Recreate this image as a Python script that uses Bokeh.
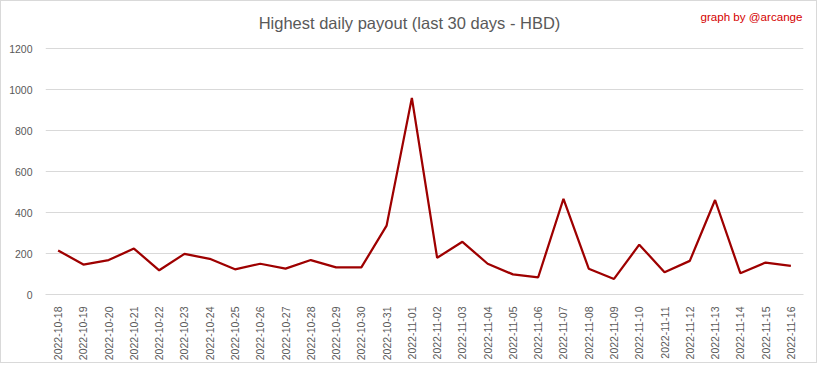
import math
from bokeh.plotting import figure
from bokeh.models import FactorRange, Range1d, FixedTicker, Label
from bokeh.embed import file_html
from bokeh.resources import INLINE

dates = ["2022-10-18", "2022-10-19", "2022-10-20", "2022-10-21", "2022-10-22",
         "2022-10-23", "2022-10-24", "2022-10-25", "2022-10-26", "2022-10-27",
         "2022-10-28", "2022-10-29", "2022-10-30", "2022-10-31", "2022-11-01",
         "2022-11-02", "2022-11-03", "2022-11-04", "2022-11-05", "2022-11-06",
         "2022-11-07", "2022-11-08", "2022-11-09", "2022-11-10", "2022-11-11",
         "2022-11-12", "2022-11-13", "2022-11-14", "2022-11-15", "2022-11-16"]
payout = [215, 146, 168, 224, 118, 198, 174, 123, 150, 126,
          168, 132, 132, 336, 959, 179, 257, 150, 98, 84,
          467, 126, 76, 243, 109, 164, 461, 104, 156, 140]
y_ticks = [0, 200, 400, 600, 800, 1000, 1200]

title_text = "Highest daily payout (last 30 days - HBD)"
credit_text = "graph by @arcange"

FONT = "Liberation Sans"
GREY = "#595959"

W, H = 817, 363
BL, BR, BT, BB = 44, 15, 4, 70
TOP_1200 = 47          # canvas y (from top) where the 1200 gridline sits
fw = W - BL - BR
fh = H - BT - BB
px_per_unit = (H - BB - TOP_1200) / 1200.0
y_end = fh / px_per_unit

p = figure(width=W, height=H, output_backend="svg", toolbar_location=None,
           title_location=None,
           x_range=FactorRange(factors=dates), y_range=Range1d(0, y_end),
           min_border_left=BL, min_border_right=BR, min_border_top=BT,
           min_border_bottom=BB)
p.styles = {"border": "1px solid #D9D9D9", "box-sizing": "border-box"}

p.line(x=dates, y=payout, line_color="#9E0000", line_width=2.25)

p.outline_line_color = None
p.xgrid.grid_line_color = None
p.ygrid.grid_line_color = "#D9D9D9"
p.ygrid.grid_line_width = 1

p.yaxis.ticker = FixedTicker(ticks=y_ticks)
p.yaxis.axis_line_color = None
p.yaxis.major_tick_line_color = None
p.yaxis.minor_tick_line_color = None
p.yaxis.major_label_standoff = 7
p.yaxis.major_label_text_font = FONT
p.yaxis.major_label_text_font_size = "10.5px"
p.yaxis.major_label_text_color = GREY

p.xaxis.axis_line_color = "#D9D9D9"
p.xaxis.major_tick_line_color = None
p.xaxis.minor_tick_line_color = None
p.xaxis.major_label_orientation = math.pi / 2
p.xaxis.major_label_standoff = 6
p.xaxis.major_label_text_font = FONT
p.xaxis.major_label_text_font_size = "10.5px"
p.xaxis.major_label_text_color = GREY

def dx(px):
    return (px - BL) / fw * len(dates)
def dy(py_from_top):
    return (H - BB - py_from_top) / px_per_unit

p.add_layout(Label(x=dx(408), y=dy(21), text=title_text,
                   text_align="center", text_baseline="middle",
                   text_font=FONT, text_font_size="16.5px", text_color=GREY))
p.add_layout(Label(x=dx(801), y=dy(14.5), text=credit_text,
                   text_align="right", text_baseline="middle",
                   text_font=FONT, text_font_size="11.6px", text_color="#D50000"))

open("out.html", "w").write(file_html(p, INLINE))
